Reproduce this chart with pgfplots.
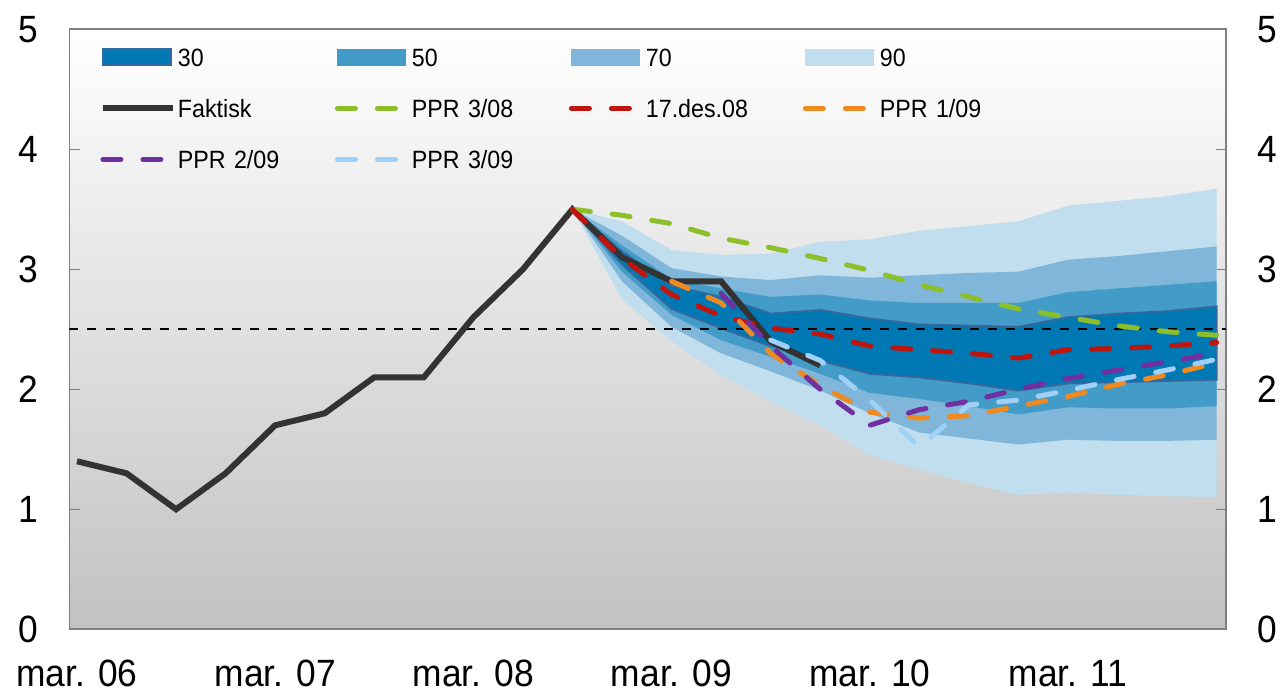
\documentclass[border=0pt]{standalone}
\usepackage{fontspec}
\setmainfont{Liberation Sans}[FakeStretch=0.93]
\usepackage{pgfplots}
\pgfplotsset{compat=1.18}

\definecolor{cNinety}{HTML}{C0DEEE}
\definecolor{cSeventy}{HTML}{7FB6D9}
\definecolor{cFifty}{HTML}{439BC8}
\definecolor{cThirty}{HTML}{0078B4}
\definecolor{cThirtyB}{HTML}{336A9E}
\definecolor{cFakt}{HTML}{333333}
\definecolor{cGreen}{HTML}{8DBF2A}
\definecolor{cRed}{HTML}{C0150F}
\definecolor{cOrange}{HTML}{EE8A1F}
\definecolor{cPurple}{HTML}{7030A0}
\definecolor{cLBlue}{HTML}{A0D0F8}

\pgfplotsset{
  bandlegend/.style={legend image code/.code={\fill[#1] (0pt,-4pt) rectangle (34pt,4pt);}},
  linelegend/.style={legend image code/.code={\draw[##1] (0pt,0pt) -- (35pt,0pt);}},
  ppr/.style={line width=2.5pt, line cap=round, dash pattern=on 9pt off 11pt},
}

\begin{document}
\begin{tikzpicture}
\begin{axis}[
  scale only axis,
  width=578.25pt, height=300pt,
  xmin=-0.151, xmax=23.19,
  ymin=0, ymax=5,
  axis background/.style={top color=white, bottom color=black!24},
  axis line style={black!50, line width=0.9pt},
  xtick={0,4,8,12,16,20},
  xticklabels={mar. 06,mar. 07,mar. 08,mar. 09,mar. 10,mar. 11},
  xtick style={draw=none},
  extra x ticks={3.855,7.855,11.855,15.855,19.855},
  extra x tick labels={},
  extra x tick style={tick style={draw=black!50, line width=0.6pt}, major tick length=6pt},
  ytick={0,1,2,3,4,5},
  ytick pos=both,
  yticklabel pos=left,
  ytick style={draw=black!50, line width=0.6pt},
  major tick length=5pt,
  tick align=inside,
  /pgf/number format/assume math mode=true,
  ticklabel style={font=\fontsize{19}{20}\selectfont},
  xticklabel style={yshift=-12pt},
  yticklabel style={xshift=-12pt},
  legend columns=4,
  legend cell align=left,
  legend style={at={(axis description cs:0,1)}, anchor=north west,
    xshift=15pt, yshift=-9.35pt,
    draw=none, fill=none, inner sep=0pt,
    font=\fontsize{12.5}{14}\selectfont,
    row sep=16.5pt,
    nodes={inner xsep=0pt, inner ysep=0pt, text width=78.5pt, text height=9pt, text depth=0pt},
    /tikz/every odd column/.append style={column sep=1pt},
    /tikz/every even column/.append style={column sep=0pt}},
]
% fan bands
\addplot[fill=cNinety, draw=none, forget plot] coordinates {
 (10,3.50)(11,3.40)(12,3.16)(13,3.12)(14,3.13)(15,3.23)(16,3.25)(17,3.32)(18,3.36)(19,3.40)(20,3.53)(21,3.57)(22,3.61)(23,3.67)
 (23,1.10)(22,1.11)(21,1.12)(20,1.14)(19,1.12)(18,1.22)(17,1.33)(16,1.45)(15,1.70)(14,1.90)(13,2.12)(12,2.40)(11,2.75)} -- cycle;
\addplot[fill=cSeventy, draw=none, forget plot] coordinates {
 (10,3.50)(11,3.28)(12,3.01)(13,2.94)(14,2.91)(15,2.95)(16,2.93)(17,2.95)(18,2.97)(19,2.98)(20,3.08)(21,3.11)(22,3.15)(23,3.19)
 (23,1.58)(22,1.57)(21,1.57)(20,1.58)(19,1.54)(18,1.59)(17,1.64)(16,1.80)(15,1.99)(14,2.15)(13,2.30)(12,2.52)(11,2.90)} -- cycle;
\addplot[fill=cFifty, draw=none, forget plot] coordinates {
 (10,3.50)(11,3.20)(12,2.92)(13,2.84)(14,2.77)(15,2.79)(16,2.74)(17,2.72)(18,2.72)(19,2.72)(20,2.81)(21,2.84)(22,2.87)(23,2.90)
 (23,1.86)(22,1.84)(21,1.84)(20,1.85)(19,1.79)(18,1.86)(17,1.92)(16,1.97)(15,2.13)(14,2.27)(13,2.41)(12,2.62)(11,2.98)} -- cycle;
\addplot[fill=cThirty, draw=cThirtyB, line width=1pt, forget plot] coordinates {
 (10,3.50)(11,3.15)(12,2.86)(13,2.77)(14,2.63)(15,2.66)(16,2.59)(17,2.54)(18,2.53)(19,2.52)(20,2.60)(21,2.63)(22,2.65)(23,2.69)
 (23,2.08)(22,2.07)(21,2.06)(20,2.05)(19,1.99)(18,2.05)(17,2.10)(16,2.13)(15,2.24)(14,2.36)(13,2.51)(12,2.67)(11,3.04)} -- cycle;
% inflation target line
\addplot[black, line width=1.1pt, dash pattern=on 4.5pt off 4.5pt, forget plot] coordinates {(-0.151,2.5)(23.19,2.5)};
% Faktisk
\addplot[cFakt, line width=3pt, forget plot] coordinates {
 (0,1.4)(1,1.3)(2,1.0)(3,1.3)(4,1.7)(5,1.8)(6,2.1)(7,2.1)(8,2.6)(9,3.0)(10,3.5)(11,3.1)(12,2.9)(13,2.9)(14,2.4)(15,2.2)};
% PPR 3/08
\addplot[cGreen, ppr, forget plot] coordinates {
 (10,3.50)(11,3.45)(12,3.38)(13,3.26)(14,3.18)(15,3.09)(16,2.99)(17,2.87)(18,2.77)(19,2.67)(20,2.60)(21,2.53)(22,2.48)(23,2.45)};
% 17.des.08
\addplot[cRed, ppr, forget plot] coordinates {
 (10,3.50)(11,3.09)(12,2.79)(13,2.61)(14,2.51)(15,2.46)(16,2.36)(17,2.33)(18,2.30)(19,2.26)(20,2.33)(21,2.34)(22,2.36)(23,2.39)};
% PPR 1/09
\addplot[cOrange, ppr, forget plot] coordinates {
 (12,2.90)(13,2.72)(14,2.30)(15,2.03)(16,1.81)(17,1.76)(18,1.78)(19,1.86)(20,1.94)(21,2.04)(22,2.12)(23,2.22)};
% PPR 2/09
\addplot[cPurple, ppr, forget plot] coordinates {
 (13,2.80)(14,2.36)(15,2.00)(16,1.70)(17,1.83)(18,1.90)(19,2.00)(20,2.09)(21,2.16)(22,2.23)(23,2.30)};
% PPR 3/09
\addplot[cLBlue, ppr, forget plot] coordinates {
 (14,2.41)(15,2.24)(16,1.91)(17,1.52)(18,1.87)(19,1.91)(20,1.99)(21,2.08)(22,2.16)(23,2.25)};

% legend
\addlegendimage{bandlegend={cThirty, draw=cThirtyB, line width=1pt}}
\addlegendentry{30}
\addlegendimage{bandlegend={cFifty}}
\addlegendentry{50}
\addlegendimage{bandlegend={cSeventy}}
\addlegendentry{70}
\addlegendimage{bandlegend={cNinety}}
\addlegendentry{90}
\addlegendimage{linelegend, cFakt, line width=3pt}
\addlegendentry{Faktisk}
\addlegendimage{linelegend, cGreen, ppr}
\addlegendentry{PPR 3/08}
\addlegendimage{linelegend, cRed, ppr}
\addlegendentry{17.des.08}
\addlegendimage{linelegend, cOrange, ppr}
\addlegendentry{PPR 1/09}
\addlegendimage{linelegend, cPurple, ppr}
\addlegendentry{PPR 2/09}
\addlegendimage{linelegend, cLBlue, ppr}
\addlegendentry{PPR 3/09}
\end{axis}
\begin{axis}[
  scale only axis,
  width=578.25pt, height=300pt,
  xmin=-0.151, xmax=23.19,
  ymin=0, ymax=5,
  hide x axis,
  axis y line*=right,
  y axis line style={draw=none},
  ytick={0,1,2,3,4,5},
  ytick style={draw=none},
  /pgf/number format/assume math mode=true,
  yticklabel style={font=\fontsize{19}{20}\selectfont, xshift=12pt},
]
\addplot[draw=none] coordinates {(0,0)(1,1)};
\end{axis}
\pgfresetboundingbox
\path ([xshift=-34.75pt,yshift=-32.35pt]current axis.south west) rectangle ([xshift=29.5pt,yshift=14.65pt]current axis.north east);
\end{tikzpicture}
\end{document}
